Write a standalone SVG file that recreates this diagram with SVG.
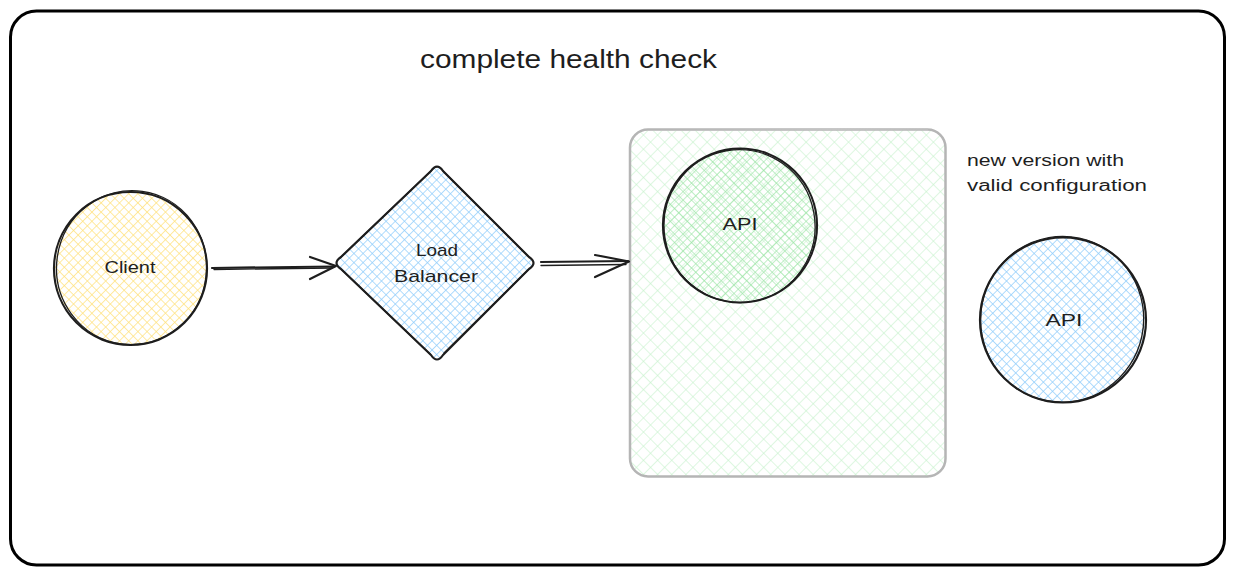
<svg xmlns="http://www.w3.org/2000/svg" width="1235" height="575" viewBox="0 0 1235 575">
  <style>
    .ink { fill: none; stroke: #1e1e1e; stroke-width: 2.2; stroke-linecap: round; stroke-linejoin: round; }
    .ink2 { fill: none; stroke: #1e1e1e; stroke-width: 1.3; stroke-linecap: round; stroke-linejoin: round; }
    .label { font-family: "Liberation Sans", "DejaVu Sans", sans-serif; font-size: 17px; fill: #1e1e1e; text-anchor: middle; dominant-baseline: central; }
    .note { font-family: "Liberation Sans", "DejaVu Sans", sans-serif; font-size: 16px; fill: #1e1e1e; }
  </style>
  <defs>
    <pattern id="hatch-yellow" patternUnits="userSpaceOnUse" width="6.5" height="6.5" patternTransform="rotate(45)">
      <line x1="0" y1="0" x2="0" y2="6.5" stroke="#ffe17a" stroke-width="1.4"/>
      <line x1="0" y1="0" x2="6.5" y2="0" stroke="#ffe17a" stroke-width="1.4"/>
    </pattern>
    <pattern id="hatch-blue" patternUnits="userSpaceOnUse" width="6.5" height="6.5" patternTransform="rotate(45)">
      <line x1="0" y1="0" x2="0" y2="6.5" stroke="#8fcdfb" stroke-width="1.4"/>
      <line x1="0" y1="0" x2="6.5" y2="0" stroke="#8fcdfb" stroke-width="1.4"/>
    </pattern>
    <pattern id="hatch-green" patternUnits="userSpaceOnUse" width="6" height="6" patternTransform="rotate(45)">
      <line x1="0" y1="0" x2="0" y2="6" stroke="#96e3a1" stroke-width="1.2"/>
      <line x1="0" y1="0" x2="6" y2="0" stroke="#96e3a1" stroke-width="1.2"/>
    </pattern>
    <pattern id="hatch-green-light" patternUnits="userSpaceOnUse" width="10" height="10" patternTransform="rotate(45)">
      <line x1="0" y1="0" x2="0" y2="10" stroke="#c2f0c8" stroke-width="1.1"/>
      <line x1="0" y1="0" x2="10" y2="0" stroke="#c2f0c8" stroke-width="1.1"/>
    </pattern>
  </defs>

  <rect width="1235" height="575" fill="#ffffff"/>

  <!-- outer frame -->
  <g id="frame">
    <rect x="10.5" y="11" width="1214" height="554" rx="26" ry="26" fill="none" stroke="#000000" stroke-width="3"/>
  </g>

  <!-- title -->
  <g id="title">
    <text x="420" y="68" font-family="Liberation Sans, DejaVu Sans, sans-serif" font-size="25" fill="#1e1e1e" textLength="297" lengthAdjust="spacingAndGlyphs">complete health check</text>
  </g>

  <!-- environment container -->
  <g id="container">
    <rect x="630" y="129.5" width="315.5" height="347" rx="18" ry="18" fill="url(#hatch-green-light)" stroke="#b5b5b5" stroke-width="2.5"/>
    <path d="M648 130.5 L928 129" fill="none" stroke="#c4c4c4" stroke-width="1"/>
  </g>

  <!-- client -->
  <g id="client">
    <circle cx="130.5" cy="268.5" r="76" fill="url(#hatch-yellow)"/>
    <ellipse cx="130.5" cy="268.5" rx="76.5" ry="76.5" class="ink"/>
    <ellipse cx="131.5" cy="267.5" rx="75" ry="77" class="ink2" transform="rotate(8 131 268)"/>
    <text x="130" y="267" class="label" textLength="51" lengthAdjust="spacingAndGlyphs">Client</text>
  </g>

  <!-- load balancer -->
  <g id="load-balancer">
    <path d="M431 171 Q437 162 443 171 L529 257 Q538 263 529 269 L443 355 Q437 364 431 355 L341 269 Q332 263 341 257 Z" fill="url(#hatch-blue)"/>
    <path d="M431 171 Q437 162 443 171 L529 257 Q538 263 529 269 L443 355 Q437 364 431 355 L341 269 Q332 263 341 257 Z" class="ink"/>
    <path d="M432 170 Q438 163 444 172 L528 256 M528 270 L444 353 M430 354 L342 270 M340 258 L432 170" class="ink2"/>
    <text x="437" y="250" class="label" textLength="42" lengthAdjust="spacingAndGlyphs">Load</text>
    <text x="436" y="276" class="label" textLength="84" lengthAdjust="spacingAndGlyphs">Balancer</text>
  </g>

  <!-- api inside container -->
  <g id="api-current">
    <circle cx="740" cy="225.5" r="76" fill="url(#hatch-green)"/>
    <ellipse cx="740" cy="225.5" rx="77" ry="77" class="ink"/>
    <ellipse cx="739.5" cy="226" rx="75.5" ry="76.5" class="ink2" transform="rotate(-10 740 226)"/>
    <text x="740" y="224" class="label" textLength="35" lengthAdjust="spacingAndGlyphs">API</text>
  </g>

  <!-- new api version -->
  <g id="api-new">
    <circle cx="1063" cy="320" r="82" fill="url(#hatch-blue)"/>
    <ellipse cx="1063" cy="320" rx="83" ry="82.5" class="ink"/>
    <ellipse cx="1062" cy="319.5" rx="81.5" ry="83" class="ink2" transform="rotate(12 1063 320)"/>
    <text x="1064" y="320" class="label" textLength="37" lengthAdjust="spacingAndGlyphs">API</text>
  </g>

  <!-- note -->
  <g id="note">
    <text x="967" y="166" class="note" textLength="157" lengthAdjust="spacingAndGlyphs">new version with</text>
    <text x="967" y="191" class="note" textLength="180" lengthAdjust="spacingAndGlyphs">valid configuration</text>
  </g>

  <!-- connectors -->
  <g id="connectors">
    <path d="M212 268 L334 266.5" class="ink"/>
    <path d="M214 269.5 L332 268" class="ink2"/>
    <path d="M310 257 L336 266 L310 279" class="ink"/>
    <path d="M541 262 L628 261" class="ink"/>
    <path d="M541 265.5 L626 264.5" class="ink2"/>
    <path d="M595 255 L629 261.5 L595 277" class="ink"/>
  </g>
</svg>
